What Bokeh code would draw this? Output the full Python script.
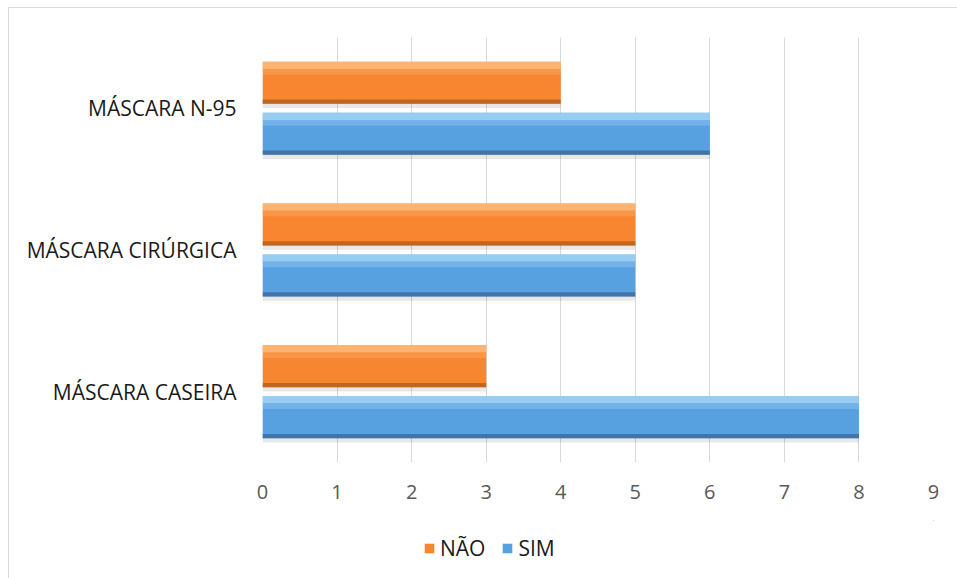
from bokeh.plotting import figure
from bokeh.layouts import column
from bokeh.models import FactorRange, Legend, LegendItem, ColumnDataSource, FixedTicker
from bokeh.transform import dodge
from bokeh.embed import file_html
from bokeh.resources import INLINE

categories = ["MÁSCARA CASEIRA", "MÁSCARA CIRÚRGICA", "MÁSCARA N-95"]
sim = [8, 5, 6]
nao = [3, 5, 4]
series_labels = ["NÃO", "SIM"]
x_ticks = [0, 1, 2, 3, 4, 5, 6, 7, 8, 9]

ORANGE = ("#F8852F", "#FDC487", "#B5621F")
BLUE = ("#58A1E1", "#AEDCF7", "#3F6E9E")

src = ColumnDataSource(data=dict(cat=categories, sim=sim, nao=nao))

p = figure(width=948, height=512, y_range=FactorRange(factors=categories),
           x_range=(0, 9), output_backend="svg", toolbar_location=None,
           min_border_left=253, min_border_right=24, min_border_top=29,
           min_border_bottom=58)
p.outline_line_color = None
p.background_fill_color = "white"
p.border_fill_color = "white"

BH = 0.296
OFF = 0.18

def bar(field, off, cols):
    main, light, dark = cols
    p.hbar(y=dodge("cat", off - 0.03, range=p.y_range), right=field, left=0, height=BH,
           source=src, fill_color="#000000", fill_alpha=0.09, line_color=None)
    r = p.hbar(y=dodge("cat", off, range=p.y_range), right=field, left=0, height=BH,
               source=src, fill_color=main, line_color=None)
    p.hbar(y=dodge("cat", off + BH / 2 - 0.025, range=p.y_range), right=field, left=0, height=0.05,
           source=src, fill_color=light, fill_alpha=0.75, line_color=None)
    p.hbar(y=dodge("cat", off + BH / 2 - 0.07, range=p.y_range), right=field, left=0, height=0.04,
           source=src, fill_color=light, fill_alpha=0.3, line_color=None)
    p.hbar(y=dodge("cat", off - BH / 2 + 0.015, range=p.y_range), right=field, left=0, height=0.03,
           source=src, fill_color=dark, fill_alpha=0.85, line_color=None)
    return r

bar("nao", OFF, ORANGE)
bar("sim", -OFF, BLUE)

p.xaxis.ticker = FixedTicker(ticks=x_ticks)
p.xaxis.axis_line_color = None
p.xaxis.major_tick_line_color = None
p.xaxis.minor_tick_line_color = None
p.xaxis.major_label_text_font = "Open Sans"
p.xaxis.major_label_text_font_size = "20px"
p.xaxis.major_label_text_color = "#595959"
p.xaxis.major_label_standoff = 16

p.yaxis.axis_line_color = None
p.yaxis.major_tick_line_color = None
p.yaxis.minor_tick_line_color = None
p.yaxis.major_label_text_font = "Open Sans"
p.yaxis.major_label_text_font_size = "21px"
p.yaxis.major_label_text_color = "#1a1a1a"
p.yaxis.major_label_standoff = 20

p.xgrid.grid_line_color = "#d9d9d9"
p.xgrid.ticker = FixedTicker(ticks=x_ticks)
p.ygrid.grid_line_color = None

# legend strip (its frame is aligned with the main plot's frame by the column)
p2 = figure(width=948, height=58, x_range=(0, 1), y_range=(0, 1),
            output_backend="svg", toolbar_location=None, min_border=0)
p2.outline_line_color = None
p2.axis.visible = False
p2.grid.visible = False
# legend-only renderers: zero-width bars far outside this strip's ranges, no outline
r1 = p2.hbar(y="nao", left="nao", right="nao", height=0.1, source=src,
             fill_color=ORANGE[0], line_color=None)
r2 = p2.hbar(y="sim", left="sim", right="sim", height=0.1, source=src,
             fill_color=BLUE[0], line_color=None)
legend = Legend(items=[LegendItem(label=series_labels[0], renderers=[r1]),
                       LegendItem(label=series_labels[1], renderers=[r2])],
                orientation="horizontal", location=(161, 16),
                label_text_font="Open Sans", label_text_font_size="21px",
                label_text_color="#1a1a1a", glyph_width=12, glyph_height=12,
                spacing=16, label_standoff=5, border_line_color=None,
                background_fill_alpha=0, padding=2, margin=0)
p2.add_layout(legend)

layout = column(p, p2, spacing=0, margin=(7, 0, 0, 8),
                styles={"border-left": "1px solid #d9d9d9", "border-top": "1px solid #d9d9d9"})

open("out.html", "w").write(file_html(layout, INLINE))
